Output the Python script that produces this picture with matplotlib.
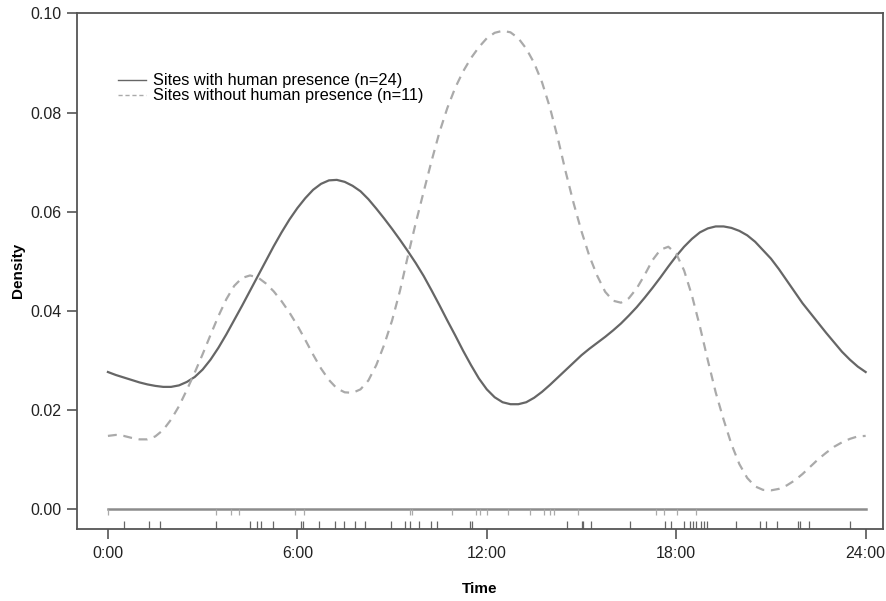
import numpy as np
import matplotlib
matplotlib.use("Agg")
import matplotlib.pyplot as plt
from matplotlib.lines import Line2D

plt.rcParams['font.family'] = ['Liberation Sans', 'DejaVu Sans']

# density curves, every quarter hour
hours = [i * 0.25 for i in range(97)]
with_human = [
    0.0276, 0.0270, 0.0265, 0.0260, 0.0255, 0.0251, 0.0248, 0.0246,   # 0:00 - 1:45
    0.0246, 0.0249, 0.0256, 0.0266, 0.0281, 0.0301, 0.0325, 0.0352,   # 2:00 - 3:45
    0.0381, 0.0410, 0.0440, 0.0470, 0.0500, 0.0530, 0.0558, 0.0584,   # 4:00 - 5:45
    0.0607, 0.0627, 0.0644, 0.0656, 0.0663, 0.0664, 0.0660, 0.0652,   # 6:00 - 7:45
    0.0641, 0.0625, 0.0606, 0.0586, 0.0565, 0.0543, 0.0520, 0.0496,   # 8:00 - 9:45
    0.0470, 0.0441, 0.0411, 0.0380, 0.0350, 0.0319, 0.0290, 0.0263,   # 10:00 - 11:45
    0.0241, 0.0225, 0.0215, 0.0211, 0.0211, 0.0215, 0.0224, 0.0236,   # 12:00 - 13:45
    0.0250, 0.0265, 0.0280, 0.0295, 0.0310, 0.0323, 0.0335, 0.0347,   # 14:00 - 15:45
    0.0360, 0.0374, 0.0390, 0.0407, 0.0426, 0.0446, 0.0467, 0.0489,   # 16:00 - 17:45
    0.0510, 0.0529, 0.0545, 0.0558, 0.0566, 0.0570, 0.0570, 0.0567,   # 18:00 - 19:45
    0.0561, 0.0552, 0.0539, 0.0522, 0.0505, 0.0484, 0.0461, 0.0438,   # 20:00 - 21:45
    0.0415, 0.0395, 0.0375, 0.0355, 0.0336, 0.0317, 0.0301, 0.0287,   # 22:00 - 23:45
    0.0276]
without_human = [
    0.0147, 0.0149, 0.0147, 0.0143, 0.0140, 0.0140, 0.0146, 0.0159,
    0.0180, 0.0207, 0.0240, 0.0275, 0.0312, 0.0351, 0.0389, 0.0423,
    0.0450, 0.0466, 0.0471, 0.0467, 0.0455, 0.0439, 0.0419, 0.0396,
    0.0370, 0.0341, 0.0311, 0.0283, 0.0260, 0.0243, 0.0235, 0.0234,
    0.0241, 0.0259, 0.0290, 0.0331, 0.0380, 0.0440, 0.0510, 0.0577,
    0.0640, 0.0702, 0.0760, 0.0809, 0.0850, 0.0883, 0.0910, 0.0932,
    0.0950, 0.0961, 0.0965, 0.0962, 0.0950, 0.0929, 0.0900, 0.0861,
    0.0810, 0.0748, 0.0680, 0.0617, 0.0560, 0.0510, 0.0470, 0.0438,
    0.0420, 0.0416, 0.0425, 0.0445, 0.0472, 0.0502, 0.0523, 0.0529,
    0.0515, 0.0481, 0.0430, 0.0368, 0.0300, 0.0235, 0.0180, 0.0130,
    0.0090, 0.0062, 0.0045, 0.0038, 0.0037, 0.0040, 0.0047, 0.0057,
    0.0070, 0.0085, 0.0100, 0.0113, 0.0125, 0.0134, 0.0141, 0.0146,
    0.0147]

# rug: detection times
rug_without = [0.0, 3.41, 3.91, 4.14, 5.94, 6.22, 9.57, 9.63, 10.90, 11.65, 11.77, 12.02,
               12.67, 13.38, 13.82, 14.01, 14.12, 14.88, 17.36, 17.61, 18.03, 18.62]
rug_with = [0.52, 1.31, 1.65, 3.42, 4.50, 4.71, 4.85, 5.24, 6.12, 6.19, 6.68, 7.18, 7.48,
            7.82, 8.15, 8.97, 9.42, 9.57, 9.86, 10.24, 10.42, 11.48, 11.53, 14.54, 15.02,
            15.04, 15.31, 16.53, 17.66, 17.82, 18.26, 18.43, 18.53, 18.64, 18.77, 18.87,
            18.96, 19.88, 20.65, 20.83, 21.18, 21.87, 21.91, 22.20, 23.50]

xticks = [0, 6, 12, 18, 24]
xticklabels = ['0:00', '6:00', '12:00', '18:00', '24:00']
yticks = [0.00, 0.02, 0.04, 0.06, 0.08, 0.10]

dark = '#666666'
light = '#aaaaaa'
ymin, ymax = -0.0041, 0.1002

fig = plt.figure(figsize=(8.87, 6.01), dpi=100)
ax = fig.add_axes([0.0868, 0.1198, 0.9087, 0.8594])

ax.plot(hours, with_human, color=dark, lw=1.6, solid_joinstyle='round')
ax.plot(hours, without_human, color=light, lw=1.6, ls=(0, (4, 3)), dash_joinstyle='round')

# baseline and rugs
ax.plot([0, 24], [0, 0], color='#8c8c8c', lw=1.8)
ax.vlines(rug_without, 0, -0.0012, color=light, lw=0.9)
ax.vlines(rug_with, ymin, ymin + 0.0016, color=dark, lw=0.9)

ax.set_xlim(-0.98, 24.55)
ax.set_ylim(ymin, ymax)
ax.set_xticks(xticks)
ax.set_xticklabels(xticklabels, fontsize=11.5)
ax.set_yticks(yticks)
ax.set_yticklabels(['%.2f' % v for v in yticks], fontsize=11.5)
ax.tick_params(colors='#555555', labelcolor='#222222', length=7, width=1.2)
ax.tick_params(axis='x', pad=5)
ax.tick_params(axis='y', pad=4)
for s in ax.spines.values():
    s.set_color('#555555')
    s.set_linewidth(1.3)

ax.set_xlabel('Time', fontsize=11, fontweight='bold')
ax.set_ylabel('Density', fontsize=11, fontweight='bold')
ax.xaxis.set_label_coords(0.5, -0.1026)
ax.yaxis.set_label_coords(-0.0645, 0.5)

handles = [Line2D([], [], color=dark, lw=1.0),
           Line2D([], [], color=light, lw=1.0, ls=(0, (3, 2)))]
ax.legend(handles, ['Sites with human presence (n=24)', 'Sites without human presence (n=11)'],
          loc='upper left', bbox_to_anchor=(0.0423, 0.895), frameon=False, fontsize=11.8,
          handlelength=1.7, handletextpad=0.45, labelspacing=0.0, borderaxespad=0)

fig.savefig('out.png', dpi=100)
